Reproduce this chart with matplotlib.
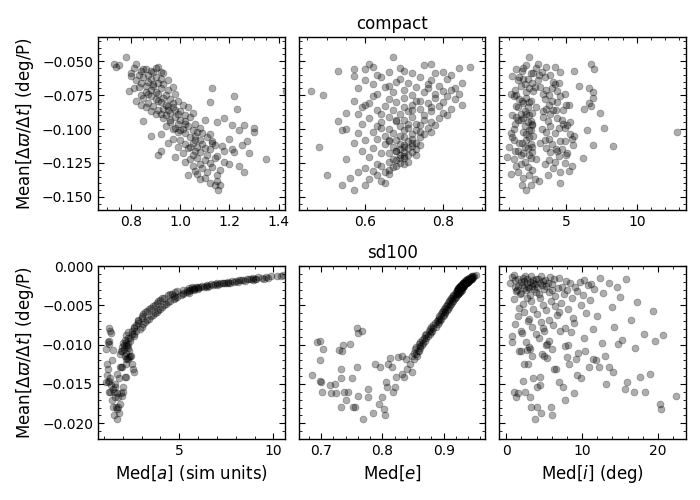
import matplotlib
matplotlib.use('Agg')
import matplotlib.pyplot as plt
from matplotlib.ticker import MultipleLocator, AutoMinorLocator

# ---- compact run: mean precession rate and medians of a, e, i ----
compact_rate = [
    # -0.046 .. -0.060
    -0.047, -0.052, -0.053, -0.054, -0.052, -0.055, -0.054, -0.056, -0.057, -0.057,
    -0.058, -0.059, -0.058, -0.056, -0.059, -0.060, -0.055, -0.060,
    # -0.060 .. -0.075
    -0.061, -0.062, -0.062, -0.063, -0.064, -0.064, -0.065, -0.066, -0.066, -0.067,
    -0.068, -0.068, -0.069, -0.0695, -0.070, -0.070, -0.071, -0.071, -0.072, -0.072,
    -0.073, -0.073, -0.074, -0.074, -0.075, -0.075, -0.063, -0.067, -0.069, -0.074,
    # -0.075 .. -0.090
    -0.076, -0.076, -0.077, -0.077, -0.078, -0.078, -0.079, -0.079, -0.080, -0.080,
    -0.081, -0.081, -0.082, -0.082, -0.083, -0.083, -0.084, -0.084, -0.085, -0.085,
    -0.086, -0.086, -0.087, -0.087, -0.088, -0.088, -0.089, -0.089, -0.090, -0.090,
    -0.079, -0.082, -0.084, -0.086, -0.089,
    # -0.090 .. -0.105
    -0.091, -0.091, -0.092, -0.092, -0.093, -0.093, -0.094, -0.094, -0.095, -0.095,
    -0.096, -0.096, -0.097, -0.097, -0.098, -0.098, -0.099, -0.0995, -0.100, -0.100,
    -0.101, -0.101, -0.102, -0.102, -0.103, -0.103, -0.104, -0.104, -0.105, -0.105,
    -0.1006, -0.093, -0.096, -0.099, -0.102,
    # -0.105 .. -0.120
    -0.106, -0.106, -0.107, -0.107, -0.108, -0.108, -0.109, -0.109, -0.110, -0.110,
    -0.111, -0.111, -0.112, -0.112, -0.113, -0.1127, -0.1135, -0.114, -0.114, -0.115,
    -0.115, -0.116, -0.116, -0.117, -0.117, -0.118, -0.118, -0.119, -0.119, -0.120,
    -0.108, -0.110, -0.113, -0.116, -0.119,
    # -0.120 .. -0.135
    -0.121, -0.1205, -0.1215, -0.1223, -0.122, -0.123, -0.124, -0.124, -0.125, -0.126,
    -0.126, -0.127, -0.127, -0.128, -0.129, -0.130, -0.131, -0.132, -0.132, -0.133,
    -0.134, -0.134,
    # below -0.135
    -0.136, -0.138, -0.140, -0.141, -0.141, -0.1453, -0.137,
]
compact_a = [
    0.78, 0.73, 0.75, 0.74, 0.82, 0.81, 0.91, 0.86, 0.88, 0.84,
    0.89, 0.80, 0.92, 0.85, 0.93, 0.87, 0.90, 0.83,
    0.80, 0.85, 0.90, 0.88, 0.82, 0.95, 0.87, 0.91, 0.84, 0.93,
    0.86, 0.89, 0.97, 1.13, 0.81, 0.92, 0.88, 0.95, 0.79, 1.43,
    0.90, 0.86, 0.98, 0.91, 0.84, 0.94, 0.92, 0.89, 0.83, 0.87,
    1.22, 0.88, 0.93, 0.85, 0.96, 0.90, 0.82, 0.99, 1.12, 0.92,
    0.87, 0.97, 0.94, 1.01, 0.89, 0.95, 0.86, 1.03, 1.23, 0.93,
    0.98, 0.91, 1.00, 0.88, 0.96, 1.05, 0.92, 0.99, 0.94, 1.02,
    0.91, 0.84, 0.97, 0.95, 0.90,
    0.98, 1.04, 1.18, 0.93, 1.10, 1.00, 0.85, 1.02, 1.15, 0.96,
    1.06, 0.99, 1.21, 1.26, 1.03, 0.94, 1.08, 1.30, 1.01, 0.97,
    1.24, 1.05, 1.30, 0.99, 1.09, 1.02, 0.92, 1.12, 0.88, 1.06,
    1.00, 0.96, 1.02, 0.98, 1.07,
    1.04, 1.11, 0.97, 1.20, 1.06, 1.00, 1.13, 1.27, 1.05, 0.95,
    1.09, 1.02, 1.25, 1.14, 1.07, 1.17, 0.99, 1.10, 1.03, 1.12,
    1.21, 1.06, 0.92, 1.22, 1.08, 1.28, 1.01, 1.11, 0.91, 1.15,
    1.08, 1.13, 1.04, 1.18, 1.05,
    1.07, 0.98, 1.14, 1.35, 1.04, 1.10, 1.18, 1.02, 1.12, 1.08,
    1.20, 1.24, 1.05, 1.13, 1.09, 1.16, 1.06, 1.26, 1.11, 1.07,
    1.15, 1.03,
    1.10, 1.15, 1.12, 1.14, 1.16, 1.155, 1.08,
]
compact_e = [
    0.67, 0.61, 0.75, 0.62, 0.77, 0.84, 0.87, 0.60, 0.53, 0.70,
    0.66, 0.72, 0.80, 0.57, 0.78, 0.63, 0.69, 0.82,
    0.57, 0.64, 0.74, 0.81, 0.60, 0.77, 0.68, 0.85, 0.71, 0.62,
    0.79, 0.66, 0.73, 0.83, 0.76, 0.58, 0.70, 0.82, 0.46, 0.80,
    0.67, 0.75, 0.63, 0.84, 0.72, 0.49, 0.69, 0.76, 0.65, 0.78,
    0.81, 0.62, 0.70, 0.78, 0.66, 0.83, 0.57, 0.74, 0.80, 0.68,
    0.61, 0.76, 0.72, 0.85, 0.65, 0.79, 0.70, 0.59, 0.82, 0.74,
    0.67, 0.63, 0.77, 0.71, 0.55, 0.80, 0.69, 0.64, 0.75, 0.81,
    0.73, 0.60, 0.77, 0.72, 0.58,
    0.72, 0.66, 0.79, 0.61, 0.75, 0.70, 0.53, 0.68, 0.77, 0.64,
    0.73, 0.59, 0.78, 0.74, 0.69, 0.63, 0.76, 0.71, 0.66, 0.55,
    0.73, 0.70, 0.62, 0.74, 0.67, 0.58, 0.72, 0.75, 0.65, 0.69,
    0.54, 0.68, 0.71, 0.64, 0.77,
    0.70, 0.74, 0.63, 0.72, 0.68, 0.60, 0.71, 0.66, 0.73, 0.57,
    0.69, 0.65, 0.74, 0.70, 0.67, 0.72, 0.48, 0.71, 0.62, 0.69,
    0.73, 0.68, 0.59, 0.70, 0.72, 0.66, 0.64, 0.71, 0.69, 0.70,
    0.66, 0.72, 0.70, 0.68, 0.73,
    0.69, 0.61, 0.70, 0.67, 0.55, 0.68, 0.71, 0.66, 0.69, 0.63,
    0.70, 0.68, 0.64, 0.67, 0.60, 0.66, 0.62, 0.65, 0.58, 0.66,
    0.50, 0.63,
    0.56, 0.64, 0.65, 0.54, 0.60, 0.57, 0.61,
]
compact_i = [
    2.4, 3.0, 2.2, 4.2, 6.8, 2.9, 3.6, 7.0, 5.6, 1.9,
    3.3, 2.7, 4.6, 1.5, 2.5, 3.9, 2.0, 3.1,
    1.2, 1.7, 3.5, 2.3, 1.6, 3.0, 4.1, 2.6, 4.5, 2.1,
    5.9, 1.8, 3.2, 2.4, 6.6, 4.0, 1.4, 3.6, 2.7, 4.4,
    6.9, 2.2, 3.4, 1.1, 1.5, 3.8, 2.0, 4.2, 2.8, 4.9,
    1.3, 4.6, 6.9, 2.2, 3.5, 1.7, 1.9, 4.0, 2.4, 4.4,
    6.6, 2.0, 5.0, 3.8, 1.5, 6.8, 1.6, 2.3, 6.3, 3.6,
    4.8, 4.3, 2.1, 3.4, 7.4, 2.6, 3.9, 1.8, 1.2, 2.4,
    2.5, 5.2, 2.9, 4.1, 2.2,
    1.5, 3.4, 2.0, 4.4, 4.7, 1.6, 2.5, 3.7, 5.3, 2.3,
    1.4, 4.8, 2.6, 5.1, 2.1, 3.9, 4.5, 7.7, 3.3, 1.3,
    6.5, 2.4, 12.8, 3.6, 1.1, 4.2, 2.2, 5.3, 2.7, 5.6,
    2.5, 1.8, 2.6, 4.9, 2.0,
    1.2, 2.4, 3.8, 5.4, 2.2, 3.5, 4.9, 4.6, 1.7, 1.9,
    2.5, 4.0, 6.9, 5.5, 2.1, 8.35, 1.0, 3.6, 2.3, 4.3,
    4.7, 1.4, 1.6, 2.6, 3.9, 5.1, 2.0, 5.0, 2.4, 4.5,
    1.3, 3.2, 2.6, 4.4, 1.8,
    6.2, 0.86, 2.5, 1.3, 2.9, 3.8, 2.1, 4.2, 4.9, 3.5,
    1.8, 5.4, 1.5, 2.3, 4.1, 2.6, 5.2, 1.6, 4.6, 1.1,
    2.4, 3.7,
    2.0, 3.1, 4.55, 2.5, 1.9, 2.2, 2.8,
]

# ---- sd100 run ----
sd100_rate = [
    # outer, slow-precessing objects
    -0.0011, -0.0012, -0.0013, -0.0013, -0.0014, -0.0014, -0.0015, -0.0015, -0.0016, -0.0016,
    -0.0016, -0.0017, -0.0017, -0.0017, -0.0018, -0.0018, -0.0018, -0.0019, -0.0019, -0.0019,
    -0.0020, -0.0020, -0.0020, -0.0021, -0.0021, -0.0021, -0.0022, -0.0022, -0.0022, -0.0023,
    -0.0023, -0.0023, -0.0024, -0.0024, -0.0024, -0.0025, -0.0025, -0.0025, -0.0026, -0.0026,
    -0.0026, -0.0027, -0.0027, -0.0027, -0.0028, -0.0028, -0.0028, -0.0029, -0.0029, -0.0029,
    -0.0030, -0.0030, -0.0015, -0.0018, -0.0022,
    # middle of the curve
    -0.0031, -0.0031, -0.0032, -0.0032, -0.0033, -0.0033, -0.0034, -0.0034, -0.0035, -0.0035,
    -0.0036, -0.0037, -0.0037, -0.0038, -0.0039, -0.0040, -0.0040, -0.0041, -0.0042, -0.0043,
    -0.0044, -0.0045, -0.0046, -0.0047, -0.0048, -0.0049, -0.0050, -0.0051, -0.0052, -0.0053,
    -0.0054, -0.0055, -0.0056, -0.0057, -0.0058, -0.0059, -0.0060, -0.0061, -0.0062, -0.0063,
    -0.0064, -0.0066, -0.0067, -0.0068, -0.0069, -0.0070,
    # steep part of the curve
    -0.0071, -0.0073, -0.0074, -0.0075, -0.0077, -0.0078, -0.0079, -0.0080, -0.0082, -0.0083,
    -0.0084, -0.0086, -0.0087, -0.0088, -0.0089, -0.0091, -0.0092, -0.0094, -0.0095, -0.0096,
    -0.0098, -0.0099, -0.0101, -0.0103, -0.0104, -0.0106, -0.0108, -0.0110, -0.0112, -0.0114,
    # inner cluster, low a / low e
    -0.0139, -0.0096, -0.0095, -0.0105, -0.0120, -0.0146, -0.0148, -0.0160, -0.0151, -0.0161,
    -0.0161, -0.0150, -0.0143, -0.0131, -0.0108, -0.0107, -0.0100, -0.0099, -0.0179, -0.0171,
    -0.0160, -0.0160, -0.0179, -0.0179, -0.0143, -0.0079, -0.0083, -0.0085, -0.0128, -0.0194,
    -0.0165, -0.0156, -0.0167, -0.0187, -0.0125, -0.0128, -0.0175, -0.0167, -0.0189, -0.0182,
    -0.0148, -0.0154, -0.0117, -0.0124, -0.0129, -0.0160, -0.0141, -0.0154, -0.0116, -0.0114,
    -0.0118, -0.0131, -0.0125, -0.0118, -0.0135, -0.0114, -0.0108, -0.0102, -0.0137, -0.0141,
]
sd100_a = [
    10.5, 10.2, 9.9, 10.4, 9.6, 9.2, 9.4, 8.9, 9.0, 8.7,
    9.5, 8.6, 8.8, 9.1, 8.4, 8.2, 8.9, 8.0, 8.5, 7.8,
    8.1, 7.6, 7.9, 7.4, 7.7, 7.2, 7.5, 7.0, 7.3, 6.9,
    7.1, 6.7, 6.8, 6.5, 7.0, 6.4, 6.6, 6.2, 6.3, 6.0,
    6.5, 5.9, 6.1, 5.7, 5.8, 5.5, 6.0, 5.8, 6.0, 5.7,
    5.6, 5.4, 9.7, 8.3, 7.6,
    5.8, 5.2, 5.5, 4.9, 5.4, 4.8, 5.2, 5.5, 4.6, 5.2,
    4.5, 5.1, 4.4, 4.7, 4.9, 4.2, 4.8, 4.1, 4.7, 4.0,
    4.5, 3.9, 4.4, 3.8, 4.3, 3.7, 4.2, 3.6, 4.1, 3.5,
    4.0, 3.4, 3.9, 3.3, 3.8, 3.2, 3.7, 3.1, 3.6, 3.0,
    3.5, 3.0, 3.4, 2.8, 3.3, 2.8,
    3.2, 2.8, 3.1, 2.7, 3.0, 2.6, 2.6, 2.9, 2.5, 2.7,
    2.3, 2.6, 2.5, 2.2, 2.6, 2.3, 2.4, 2.1, 2.4, 2.15,
    2.0, 2.3, 2.2, 1.95, 2.3, 2.05, 1.9, 2.2, 1.85, 2.1,
    1.15, 1.20, 1.30, 1.12, 1.45, 1.25, 1.10, 1.55, 1.40, 1.70,
    1.90, 1.60, 1.35, 1.20, 1.95, 1.50, 2.05, 1.28, 1.50, 1.42,
    2.00, 1.30, 1.62, 1.75, 1.80, 1.25, 1.32, 1.38, 1.85, 1.68,
    1.95, 1.48, 1.60, 1.80, 2.15, 1.90, 1.88, 1.75, 1.55, 1.72,
    1.22, 2.00, 2.25, 1.15, 1.95, 1.35, 2.10, 1.58, 2.35, 2.45,
    2.30, 2.55, 2.48, 2.20, 2.60, 2.40, 2.35, 2.25, 1.70, 2.15,
]
sd100_e = [
    0.953, 0.947, 0.950, 0.946, 0.948, 0.944, 0.947, 0.942, 0.945, 0.941,
    0.946, 0.939, 0.944, 0.938, 0.943, 0.937, 0.942, 0.936, 0.941, 0.935,
    0.940, 0.934, 0.939, 0.933, 0.938, 0.932, 0.937, 0.931, 0.936, 0.931,
    0.935, 0.930, 0.934, 0.929, 0.933, 0.928, 0.933, 0.927, 0.932, 0.926,
    0.931, 0.926, 0.930, 0.925, 0.930, 0.924, 0.929, 0.924, 0.928, 0.923,
    0.927, 0.923, 0.944, 0.939, 0.937,
    0.930, 0.922, 0.928, 0.921, 0.927, 0.920, 0.925, 0.921, 0.924, 0.919,
    0.923, 0.916, 0.922, 0.915, 0.920, 0.914, 0.919, 0.912, 0.917, 0.911,
    0.915, 0.909, 0.914, 0.907, 0.912, 0.906, 0.910, 0.904, 0.908, 0.902,
    0.907, 0.900, 0.905, 0.899, 0.903, 0.897, 0.902, 0.895, 0.900, 0.893,
    0.899, 0.892, 0.896, 0.890, 0.894, 0.889,
    0.893, 0.886, 0.891, 0.883, 0.887, 0.880, 0.883, 0.878, 0.881, 0.876,
    0.880, 0.872, 0.877, 0.870, 0.874, 0.868, 0.872, 0.864, 0.869, 0.862,
    0.866, 0.859, 0.864, 0.855, 0.862, 0.853, 0.858, 0.851, 0.855, 0.848,
    0.685, 0.693, 0.699, 0.703, 0.699, 0.698, 0.700, 0.702, 0.714, 0.717,
    0.724, 0.722, 0.733, 0.733, 0.735, 0.730, 0.736, 0.748, 0.732, 0.740,
    0.737, 0.744, 0.752, 0.756, 0.751, 0.758, 0.767, 0.761, 0.758, 0.769,
    0.761, 0.777, 0.777, 0.785, 0.788, 0.796, 0.795, 0.800, 0.805, 0.802,
    0.806, 0.808, 0.813, 0.810, 0.815, 0.818, 0.823, 0.820, 0.826, 0.832,
    0.839, 0.840, 0.845, 0.852, 0.848, 0.856, 0.859, 0.862, 0.832, 0.836,
]
sd100_i = [
    1.0, 2.5, 4.6, 3.3, 0.8, 5.8, 2.2, 12.4, 3.9, 1.5,
    6.3, 4.2, 2.8, 15.8, 5.1, 1.2, 3.6, 7.9, 2.4, 4.9,
    9.7, 3.1, 1.9, 5.5, 13.5, 2.7, 4.4, 8.4, 0.5, 3.8,
    6.0, 11.2, 2.1, 4.7, 10.8, 1.6, 5.3, 3.4, 7.3, 2.9,
    14.6, 4.1, 1.1, 9.1, 3.0, 6.8, 2.3, 5.0, 11.6, 3.7,
    8.0, 1.4, 6.9, 10.3, 3.5,
    2.6, 6.1, 1.3, 9.4, 3.9, 5.6, 12.8, 2.0, 7.6, 4.3,
    1.8, 10.1, 3.2, 6.5, 15.0, 2.7, 8.7, 4.5, 1.0, 11.0,
    5.9, 3.3, 17.2, 7.2, 2.2, 9.9, 4.8, 6.4, 13.9, 1.7,
    8.2, 3.6, 5.2, 19.4, 7.0, 2.4, 10.5, 4.0, 6.7, 1.5,
    12.0, 8.8, 3.0, 5.7, 16.4, 2.9,
    4.6, 9.0, 1.2, 6.2, 14.2, 3.4, 7.8, 11.4, 2.0, 5.0,
    8.5, 18.1, 3.9, 20.7, 0.8, 10.2, 4.3, 15.3, 19.6, 2.6,
    12.6, 5.4, 8.1, 3.0, 17.0, 6.0, 1.9, 9.5, 4.7, 13.0,
    9.3, 0.8, 5.7, 3.1, 11.8, 2.2, 7.0, 16.8, 4.4, 1.6,
    8.9, 13.2, 3.6, 6.3, 10.4, 2.8, 5.2, 14.8, 4.0, 7.7,
    2.5, 18.3, 5.9, 3.3, 9.8, 4.9, 7.1, 2.1, 12.2, 3.8,
    22.4, 15.6, 1.3, 4.6, 8.3, 10.9, 20.3, 3.2, 6.0, 20.4,
    15.9, 7.5, 5.4, 2.9, 13.6, 1.0, 17.7, 4.1, 8.0, 3.4,
    11.5, 6.6, 2.3, 9.2, 14.1, 5.0, 1.7, 7.8, 19.0, 4.5,
]

row_titles = ['compact', 'sd100']
x_labels = [r'Med[$a$] (sim units)', r'Med[$e$]', r'Med[$i$] (deg)']
y_label = r'Mean[$\Delta\varpi/\Delta t$] (deg/P)'

plt.rcParams.update({
    'xtick.direction': 'in', 'ytick.direction': 'in',
    'xtick.top': True, 'ytick.right': True,
    'xtick.minor.visible': True, 'ytick.minor.visible': True,
    'xtick.major.size': 4, 'ytick.major.size': 4,
    'xtick.minor.size': 2, 'ytick.minor.size': 2,
    'xtick.labelsize': 10, 'ytick.labelsize': 10,
    'axes.linewidth': 1.0,
})

fig, axes = plt.subplots(2, 3, figsize=(7, 5), dpi=100, sharey='row')
fig.subplots_adjust(left=0.14, right=0.98, top=0.926, bottom=0.122,
                    wspace=0.075, hspace=0.325)

rows = [
    (compact_rate, [compact_a, compact_e, compact_i]),
    (sd100_rate, [sd100_a, sd100_e, sd100_i]),
]
xlims = [[(0.665, 1.425), (0.428, 0.909), (0.3, 13.47)],
         [(0.69, 10.6), (0.6635, 0.968), (-0.9, 23.7)]]
xsteps = [[0.2, 0.2, 5], [5, 0.1, 10]]
ylims = [(-0.1596, -0.0322), (-0.022, 0.0)]
ysteps = [0.025, 0.005]

for r, (rate, xs) in enumerate(rows):
    for c, x in enumerate(xs):
        ax = axes[r, c]
        ax.plot(x, rate, 'o', color='k', alpha=0.32, ms=5, mew=0.5)
        ax.set_xlim(*xlims[r][c])
        ax.xaxis.set_major_locator(MultipleLocator(xsteps[r][c]))
        ax.xaxis.set_minor_locator(AutoMinorLocator())
        ax.yaxis.set_minor_locator(AutoMinorLocator())
        ax.tick_params(which='both', top=True, right=True)
        if r == 1:
            ax.set_xlabel(x_labels[c], fontsize=12)
    axes[r, 0].set_ylim(*ylims[r])
    axes[r, 0].yaxis.set_major_locator(MultipleLocator(ysteps[r]))
    axes[r, 0].set_ylabel(y_label, fontsize=12)
    axes[r, 1].set_title(row_titles[r], fontsize=12)

fig.savefig('out.png', dpi=100)
